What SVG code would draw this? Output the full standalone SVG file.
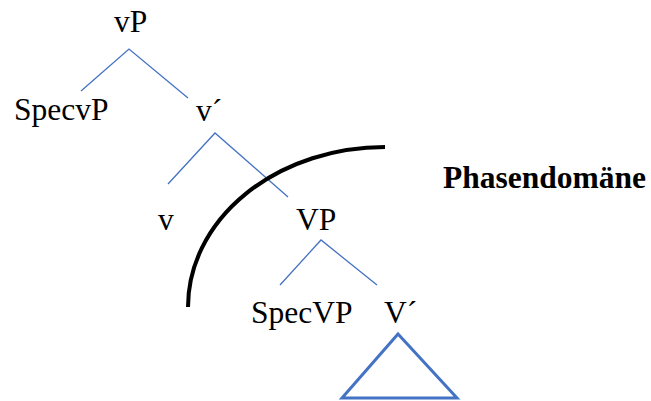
<svg xmlns="http://www.w3.org/2000/svg" width="651" height="401" viewBox="0 0 651 401">
<style>
.t{font-family:"Liberation Serif","Times New Roman",serif;font-size:31.5px;fill:#000}
.b{font-weight:bold}
.e{stroke:#4472C4;stroke-width:1.3;fill:none}
</style>
<rect width="651" height="401" fill="#fff"/>
<g id="connectors">
<path class="e" d="M81 91 L129 49 L188 98"/>
<path class="e" d="M168 184 L215 133 L288 197"/>
<path class="e" d="M280 285 L321 240 L377 285"/>
</g>
<g id="n-vP"><text class="t" x="114" y="32">vP</text></g>
<g id="n-SpecvP"><text class="t" x="14" y="120">SpecvP</text></g>
<g id="n-vbar"><text class="t" x="196" y="121">v´</text></g>
<g id="n-v"><text class="t" x="158" y="230">v</text></g>
<g id="n-VP"><text class="t" x="296" y="230">VP</text></g>
<g id="n-SpecVP"><text class="t" x="251" y="323">SpecVP</text></g>
<g id="n-Vbar"><text class="t" x="384" y="323">V´</text></g>
<g id="triangle"><path d="M398 334 L342 398 L457 398 Z" fill="none" stroke="#4472C4" stroke-width="3"/></g>
<g id="phase-boundary"><path d="M188 307 A197 160 0 0 1 385 147" fill="none" stroke="#000" stroke-width="4"/></g>
<g id="label"><text class="t b" x="443" y="188">Phasendomäne</text></g>
</svg>
